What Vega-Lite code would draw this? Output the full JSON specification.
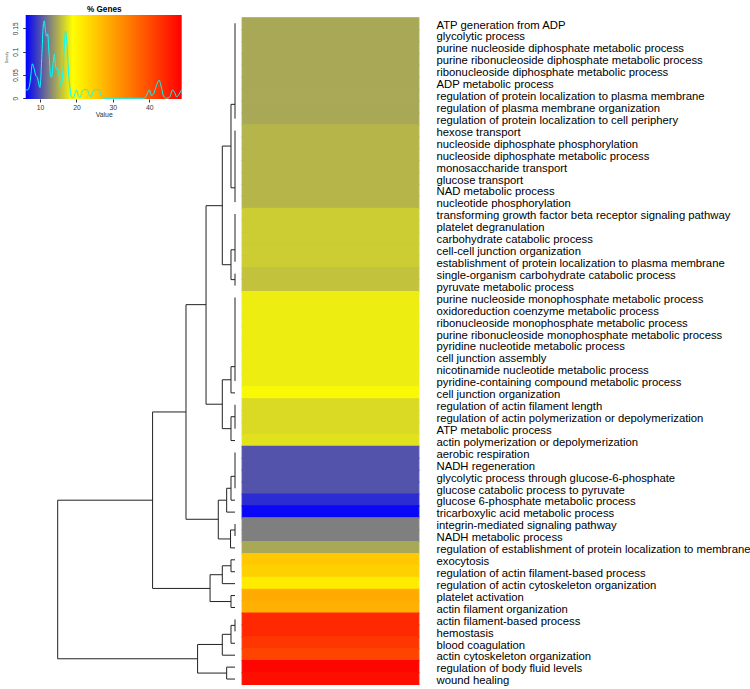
{
  "$schema": "https://vega.github.io/schema/vega-lite/v6.json",
  "width": 750,
  "height": 689,
  "autosize": {"type": "none"},
  "padding": 0,
  "background": "white",
  "config": {"view": {"stroke": null}, "font": "Liberation Sans"},
  "datasets": {
    "terms": [
      {"term": "ATP generation from ADP", "sample": "% Genes", "pct": 14.6},
      {"term": "glycolytic process", "sample": "% Genes", "pct": 14.6},
      {"term": "purine nucleoside diphosphate metabolic process", "sample": "% Genes", "pct": 14.6},
      {"term": "purine ribonucleoside diphosphate metabolic process", "sample": "% Genes", "pct": 14.6},
      {"term": "ribonucleoside diphosphate metabolic process", "sample": "% Genes", "pct": 14.6},
      {"term": "ADP metabolic process", "sample": "% Genes", "pct": 14.6},
      {"term": "regulation of protein localization to plasma membrane", "sample": "% Genes", "pct": 14.6},
      {"term": "regulation of plasma membrane organization", "sample": "% Genes", "pct": 14.6},
      {"term": "regulation of protein localization to cell periphery", "sample": "% Genes", "pct": 14.6},
      {"term": "hexose transport", "sample": "% Genes", "pct": 15.25},
      {"term": "nucleoside diphosphate phosphorylation", "sample": "% Genes", "pct": 15.25},
      {"term": "nucleoside diphosphate metabolic process", "sample": "% Genes", "pct": 15.25},
      {"term": "monosaccharide transport", "sample": "% Genes", "pct": 15.25},
      {"term": "glucose transport", "sample": "% Genes", "pct": 15.25},
      {"term": "NAD metabolic process", "sample": "% Genes", "pct": 15.25},
      {"term": "nucleotide phosphorylation", "sample": "% Genes", "pct": 15.25},
      {"term": "transforming growth factor beta receptor signaling pathway", "sample": "% Genes", "pct": 16.4},
      {"term": "platelet degranulation", "sample": "% Genes", "pct": 16.4},
      {"term": "carbohydrate catabolic process", "sample": "% Genes", "pct": 16.4},
      {"term": "cell-cell junction organization", "sample": "% Genes", "pct": 16.4},
      {"term": "establishment of protein localization to plasma membrane", "sample": "% Genes", "pct": 16.4},
      {"term": "single-organism carbohydrate catabolic process", "sample": "% Genes", "pct": 15.9},
      {"term": "pyruvate metabolic process", "sample": "% Genes", "pct": 15.9},
      {"term": "purine nucleoside monophosphate metabolic process", "sample": "% Genes", "pct": 18.1},
      {"term": "oxidoreduction coenzyme metabolic process", "sample": "% Genes", "pct": 18.1},
      {"term": "ribonucleoside monophosphate metabolic process", "sample": "% Genes", "pct": 18.1},
      {"term": "purine ribonucleoside monophosphate metabolic process", "sample": "% Genes", "pct": 18.1},
      {"term": "pyridine nucleotide metabolic process", "sample": "% Genes", "pct": 18.1},
      {"term": "cell junction assembly", "sample": "% Genes", "pct": 18.1},
      {"term": "nicotinamide nucleotide metabolic process", "sample": "% Genes", "pct": 18.1},
      {"term": "pyridine-containing compound metabolic process", "sample": "% Genes", "pct": 18.1},
      {"term": "cell junction organization", "sample": "% Genes", "pct": 18.7},
      {"term": "regulation of actin filament length", "sample": "% Genes", "pct": 17.1},
      {"term": "regulation of actin polymerization or depolymerization", "sample": "% Genes", "pct": 17.1},
      {"term": "ATP metabolic process", "sample": "% Genes", "pct": 17.1},
      {"term": "actin polymerization or depolymerization", "sample": "% Genes", "pct": 17.5},
      {"term": "aerobic respiration", "sample": "% Genes", "pct": 10.3},
      {"term": "NADH regeneration", "sample": "% Genes", "pct": 10.3},
      {"term": "glycolytic process through glucose-6-phosphate", "sample": "% Genes", "pct": 10.3},
      {"term": "glucose catabolic process to pyruvate", "sample": "% Genes", "pct": 10.3},
      {"term": "glucose 6-phosphate metabolic process", "sample": "% Genes", "pct": 8.3},
      {"term": "tricarboxylic acid metabolic process", "sample": "% Genes", "pct": 6.5},
      {"term": "integrin-mediated signaling pathway", "sample": "% Genes", "pct": 12.5},
      {"term": "NADH metabolic process", "sample": "% Genes", "pct": 12.5},
      {"term": "regulation of establishment of protein localization to membrane", "sample": "% Genes", "pct": 14.6},
      {"term": "exocytosis", "sample": "% Genes", "pct": 25.5},
      {"term": "regulation of actin filament-based process", "sample": "% Genes", "pct": 24.5},
      {"term": "regulation of actin cytoskeleton organization", "sample": "% Genes", "pct": 21.3},
      {"term": "platelet activation", "sample": "% Genes", "pct": 29.0},
      {"term": "actin filament organization", "sample": "% Genes", "pct": 28.3},
      {"term": "actin filament-based process", "sample": "% Genes", "pct": 44.2},
      {"term": "hemostasis", "sample": "% Genes", "pct": 44.2},
      {"term": "blood coagulation", "sample": "% Genes", "pct": 42.6},
      {"term": "actin cytoskeleton organization", "sample": "% Genes", "pct": 40.9},
      {"term": "regulation of body fluid levels", "sample": "% Genes", "pct": 48.3},
      {"term": "wound healing", "sample": "% Genes", "pct": 47.3}
    ],
    "dendro": [
      {"h": 0, "h2": 0, "p": 1, "p2": 9},
      {"h": 0, "h2": 0, "p": 10, "p2": 16},
      {"h": 0.9, "h2": 0.9, "p": 7.8, "p2": 14.8},
      {"h": 0, "h2": 0, "p": 17, "p2": 21},
      {"h": 0, "h2": 0, "p": 22, "p2": 23},
      {"h": 0.9, "h2": 0.9, "p": 20, "p2": 22.5},
      {"h": 2.85, "h2": 2.85, "p": 11.3, "p2": 21.25},
      {"h": 0, "h2": 0, "p": 24, "p2": 31},
      {"h": 0.9, "h2": 0.9, "p": 29.8, "p2": 32},
      {"h": 0, "h2": 0, "p": 33, "p2": 35},
      {"h": 0.9, "h2": 0.9, "p": 34, "p2": 36},
      {"h": 2.85, "h2": 2.85, "p": 30.9, "p2": 35},
      {"h": 6.5, "h2": 6.5, "p": 16.3, "p2": 32.95},
      {"h": 0, "h2": 0, "p": 37, "p2": 40},
      {"h": 0.9, "h2": 0.9, "p": 39, "p2": 41},
      {"h": 1.87, "h2": 1.87, "p": 40, "p2": 42},
      {"h": 0, "h2": 0, "p": 43, "p2": 44},
      {"h": 1.0, "h2": 1.0, "p": 43.5, "p2": 45},
      {"h": 3.75, "h2": 3.75, "p": 41, "p2": 44.25},
      {"h": 11, "h2": 11, "p": 24.6, "p2": 42.6},
      {"h": 0.9, "h2": 0.9, "p": 46, "p2": 47},
      {"h": 2.85, "h2": 2.85, "p": 46.5, "p2": 48},
      {"h": 0.9, "h2": 0.9, "p": 49, "p2": 50},
      {"h": 5.6, "h2": 5.6, "p": 47.25, "p2": 49.5},
      {"h": 18.5, "h2": 18.5, "p": 33.6, "p2": 48.4},
      {"h": 0, "h2": 0, "p": 51, "p2": 52},
      {"h": 0.9, "h2": 0.9, "p": 51.5, "p2": 53},
      {"h": 2.85, "h2": 2.85, "p": 52.25, "p2": 54},
      {"h": 1.87, "h2": 1.87, "p": 55, "p2": 56},
      {"h": 8.4, "h2": 8.4, "p": 53.1, "p2": 55.5},
      {"h": 39.8, "h2": 39.8, "p": 41, "p2": 54.3},
      {"h": 0.9, "h2": 0, "p": 7.8, "p2": 7.8},
      {"h": 0.9, "h2": 0, "p": 14.8, "p2": 14.8},
      {"h": 0.9, "h2": 0, "p": 20, "p2": 20},
      {"h": 0.9, "h2": 0, "p": 22.5, "p2": 22.5},
      {"h": 2.85, "h2": 0.9, "p": 11.3, "p2": 11.3},
      {"h": 2.85, "h2": 0.9, "p": 21.25, "p2": 21.25},
      {"h": 0.9, "h2": 0, "p": 29.8, "p2": 29.8},
      {"h": 0.9, "h2": 0, "p": 32, "p2": 32},
      {"h": 0.9, "h2": 0, "p": 34, "p2": 34},
      {"h": 0.9, "h2": 0, "p": 36, "p2": 36},
      {"h": 2.85, "h2": 0.9, "p": 30.9, "p2": 30.9},
      {"h": 2.85, "h2": 0.9, "p": 35, "p2": 35},
      {"h": 6.5, "h2": 2.85, "p": 16.3, "p2": 16.3},
      {"h": 6.5, "h2": 2.85, "p": 32.95, "p2": 32.95},
      {"h": 0.9, "h2": 0, "p": 39, "p2": 39},
      {"h": 0.9, "h2": 0, "p": 41, "p2": 41},
      {"h": 1.87, "h2": 0.9, "p": 40, "p2": 40},
      {"h": 1.87, "h2": 0, "p": 42, "p2": 42},
      {"h": 1.0, "h2": 0, "p": 43.5, "p2": 43.5},
      {"h": 1.0, "h2": 0, "p": 45, "p2": 45},
      {"h": 3.75, "h2": 1.87, "p": 41, "p2": 41},
      {"h": 3.75, "h2": 1.0, "p": 44.25, "p2": 44.25},
      {"h": 11, "h2": 6.5, "p": 24.6, "p2": 24.6},
      {"h": 11, "h2": 3.75, "p": 42.6, "p2": 42.6},
      {"h": 0.9, "h2": 0, "p": 46, "p2": 46},
      {"h": 0.9, "h2": 0, "p": 47, "p2": 47},
      {"h": 2.85, "h2": 0.9, "p": 46.5, "p2": 46.5},
      {"h": 2.85, "h2": 0, "p": 48, "p2": 48},
      {"h": 0.9, "h2": 0, "p": 49, "p2": 49},
      {"h": 0.9, "h2": 0, "p": 50, "p2": 50},
      {"h": 5.6, "h2": 2.85, "p": 47.25, "p2": 47.25},
      {"h": 5.6, "h2": 0.9, "p": 49.5, "p2": 49.5},
      {"h": 18.5, "h2": 11, "p": 33.6, "p2": 33.6},
      {"h": 18.5, "h2": 5.6, "p": 48.4, "p2": 48.4},
      {"h": 0.9, "h2": 0, "p": 51.5, "p2": 51.5},
      {"h": 0.9, "h2": 0, "p": 53, "p2": 53},
      {"h": 2.85, "h2": 0.9, "p": 52.25, "p2": 52.25},
      {"h": 2.85, "h2": 0, "p": 54, "p2": 54},
      {"h": 1.87, "h2": 0, "p": 55, "p2": 55},
      {"h": 1.87, "h2": 0, "p": 56, "p2": 56},
      {"h": 8.4, "h2": 2.85, "p": 53.1, "p2": 53.1},
      {"h": 8.4, "h2": 1.87, "p": 55.5, "p2": 55.5},
      {"h": 39.8, "h2": 18.5, "p": 41, "p2": 41},
      {"h": 39.8, "h2": 8.4, "p": 54.3, "p2": 54.3}
    ],
    "dens": [
      {"v": 6.08, "d": 0.018}, {"v": 6.6, "d": 0.018}, {"v": 7.1, "d": 0.026},
      {"v": 7.5, "d": 0.05}, {"v": 7.9, "d": 0.074}, {"v": 8.3, "d": 0.066},
      {"v": 8.8, "d": 0.05}, {"v": 9.3, "d": 0.044}, {"v": 10.0, "d": 0.023},
      {"v": 10.5, "d": 0.09}, {"v": 10.9, "d": 0.155}, {"v": 11.2, "d": 0.166},
      {"v": 11.5, "d": 0.145}, {"v": 11.8, "d": 0.133}, {"v": 12.1, "d": 0.138},
      {"v": 12.5, "d": 0.095}, {"v": 12.9, "d": 0.05}, {"v": 13.2, "d": 0.045},
      {"v": 13.6, "d": 0.075}, {"v": 13.9, "d": 0.094}, {"v": 14.4, "d": 0.064},
      {"v": 15.0, "d": 0.061}, {"v": 15.7, "d": 0.026}, {"v": 16.4, "d": 0.068},
      {"v": 16.8, "d": 0.13}, {"v": 17.0, "d": 0.144}, {"v": 17.5, "d": 0.104},
      {"v": 17.9, "d": 0.05}, {"v": 18.2, "d": 0.025}, {"v": 18.6, "d": 0.003},
      {"v": 19.1, "d": 0.001}, {"v": 19.6, "d": 0.01}, {"v": 20.0, "d": 0.018},
      {"v": 20.5, "d": 0.006}, {"v": 21.0, "d": 0.002}, {"v": 21.6, "d": 0.015},
      {"v": 22.3, "d": 0.019}, {"v": 23.0, "d": 0.018}, {"v": 23.6, "d": 0.006},
      {"v": 24.1, "d": 0.004}, {"v": 24.7, "d": 0.017}, {"v": 25.4, "d": 0.019},
      {"v": 26.2, "d": 0.018}, {"v": 26.8, "d": 0.005}, {"v": 27.4, "d": 0.0},
      {"v": 30.0, "d": 0.0}, {"v": 35.0, "d": 0.0}, {"v": 38.6, "d": 0.0},
      {"v": 39.3, "d": 0.007}, {"v": 40.0, "d": 0.018}, {"v": 40.6, "d": 0.006},
      {"v": 41.2, "d": 0.01}, {"v": 42.0, "d": 0.028}, {"v": 42.7, "d": 0.039},
      {"v": 43.3, "d": 0.024}, {"v": 43.9, "d": 0.005}, {"v": 44.7, "d": 0.0},
      {"v": 45.6, "d": 0.003}, {"v": 46.4, "d": 0.018}, {"v": 47.0, "d": 0.012},
      {"v": 47.5, "d": 0.003}, {"v": 48.2, "d": 0.009}, {"v": 48.9, "d": 0.019}
    ]
  },
  "layer": [
    {
      "data": {"name": "terms"},
      "mark": {"type": "rect", "strokeWidth": 1.2, "strokeOpacity": 1, "opacity": 1},
      "encoding": {
        "x": {"field": "sample", "type": "nominal", "scale": {"range": [242.2, 418.8], "paddingInner": 0, "paddingOuter": 0}, "axis": null},
        "y": {"field": "term", "type": "nominal", "sort": null, "scale": {"range": [17.8, 684.5], "paddingInner": 0, "paddingOuter": 0}, "axis": null},
        "color": {"field": "pct", "type": "quantitative", "scale": {"domain": [6.08, 19, 48.9], "range": ["#0000FF", "#FFFF00", "#FF0000"], "interpolate": "rgb"}, "legend": null},
        "stroke": {"field": "pct", "type": "quantitative", "scale": {"domain": [6.08, 19, 48.9], "range": ["#0000FF", "#FFFF00", "#FF0000"], "interpolate": "rgb"}, "legend": null}
      }
    },
    {
      "data": {"name": "terms"},
      "mark": {"type": "text", "align": "left", "baseline": "middle", "dx": 106, "dy": 2.3, "fontSize": 11.3, "font": "Liberation Sans", "color": "#000000"},
      "encoding": {
        "x": {"field": "sample", "type": "nominal", "scale": {"range": [241.7, 419.3], "paddingInner": 0, "paddingOuter": 0}, "axis": null},
        "y": {"field": "term", "type": "nominal", "sort": null, "scale": {"range": [17.3, 685], "paddingInner": 0, "paddingOuter": 0}, "axis": null},
        "text": {"field": "term", "type": "nominal"}
      }
    },
    {
      "data": {"name": "dendro"},
      "mark": {"type": "rule", "color": "#222222", "strokeWidth": 1},
      "encoding": {
        "x": {"field": "h", "type": "quantitative", "scale": {"domain": [0, 39.8], "range": [235, 57.7], "nice": false, "zero": false}, "axis": null},
        "x2": {"field": "h2"},
        "y": {"field": "p", "type": "quantitative", "scale": {"domain": [0.5, 56.5], "range": [17.3, 685], "nice": false, "zero": false}, "axis": null},
        "y2": {"field": "p2"}
      }
    },
    {
      "data": {"values": [{"vmin": 6.08, "vmax": 48.9, "dmin": -0.0015, "dmax": 0.1785}]},
      "mark": {
        "type": "rect",
        "color": {
          "gradient": "linear", "x1": 0, "y1": 0, "x2": 1, "y2": 0,
          "stops": [
            {"offset": 0, "color": "#0000FF"},
            {"offset": 0.3017, "color": "#FFFF00"},
            {"offset": 1, "color": "#FF0000"}
          ]
        }
      },
      "encoding": {
        "x": {
          "field": "vmin", "type": "quantitative",
          "scale": {"domain": [6.08, 48.9], "range": [25.7, 181.7], "nice": false, "zero": false},
          "axis": {"orient": "bottom", "offset": -590, "values": [10, 20, 30, 40], "format": "d", "domain": false, "grid": false, "tickSize": 3, "tickColor": "#333333", "labelFontSize": 6.8, "labelColor": "#333333", "labelPadding": 2, "title": "Value", "titleFontSize": 6.9, "titleFontWeight": "normal", "titleColor": "#333333", "titlePadding": 1}
        },
        "x2": {"field": "vmax"},
        "y": {
          "field": "dmin", "type": "quantitative",
          "scale": {"domain": [-0.0015, 0.1785], "range": [99, 15], "nice": false, "zero": false},
          "axis": {"orient": "left", "offset": -25.7, "values": [0, 0.05, 0.1, 0.15], "format": "~g", "domain": false, "grid": false, "tickSize": 3, "tickColor": "#333333", "labelAngle": 270, "labelAlign": "center", "labelBaseline": "bottom", "labelFontSize": 6.5, "labelColor": "#333333", "labelPadding": 4, "title": "Density", "titleFontSize": 3.5, "titleFontWeight": "normal", "titleColor": "#333333", "titlePadding": 4}
        },
        "y2": {"field": "dmax"}
      }
    },
    {
      "data": {"name": "dens"},
      "mark": {"type": "line", "color": "#00FFFF", "strokeWidth": 1, "interpolate": "monotone"},
      "encoding": {
        "x": {
          "field": "v", "type": "quantitative",
          "scale": {"domain": [6.08, 48.9], "range": [25.7, 181.7], "nice": false, "zero": false},
          "axis": {"orient": "top", "offset": -15, "labels": false, "ticks": false, "domain": false, "grid": false, "title": "% Genes", "titleFontSize": 8.2, "titleFontWeight": "bold", "titleColor": "#000000", "titlePadding": 2}
        },
        "y": {
          "field": "d", "type": "quantitative",
          "scale": {"domain": [-0.0015, 0.1785], "range": [99, 15], "nice": false, "zero": false},
          "axis": null
        }
      }
    }
  ],
  "resolve": {
    "scale": {"x": "independent", "y": "independent", "color": "independent", "stroke": "independent"},
    "axis": {"x": "independent", "y": "independent"}
  }
}
